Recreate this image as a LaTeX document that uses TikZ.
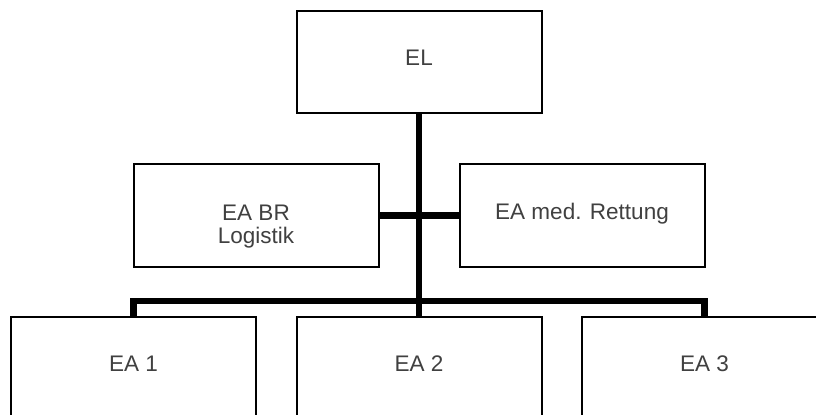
\documentclass[tikz,border=0pt]{standalone}
\usepackage{fontspec}
\setmainfont{Liberation Sans}
\tikzstyle{unit}=[draw, line width=1.5pt, fill=white, inner sep=0pt, minimum width=183.75pt, minimum height=76.5pt, align=center, text=black!75, font=\fontsize{16.9pt}{17pt}\selectfont, text depth=6pt]
\tikzstyle{link}=[line width=4.8pt]

\begin{document}
\begin{tikzpicture}[x=0.75pt, y=-0.75pt]
        \useasboundingbox (0,0) rectangle (816,414);
        \node[unit] (EL) at (419, 62) {EL};
        \node[unit, minimum height=77.25pt, text height=45pt, text depth={}] (BRL) at (256, 215.5) {EA BR\\Logistik};
        \node[unit, minimum height=77.25pt] (MED) at (582, 215.5) {EA med. Rettung};
        \node[unit] (EA1) at (133.5, 367.7) {EA 1};
        \node[unit] (EA2) at (419, 367.7) {EA 2};
        \node[unit] (EA3) at (704.5, 367.7) {EA 3};
        \coordinate (bus) at (419, 300.7);
        \draw[link] (EL) -- (EA2);
        \draw[link] (BRL) -- (MED);
        \draw[link] (EA1.north) |- (bus) -| (EA3.north);
    \end{tikzpicture}
\end{document}
